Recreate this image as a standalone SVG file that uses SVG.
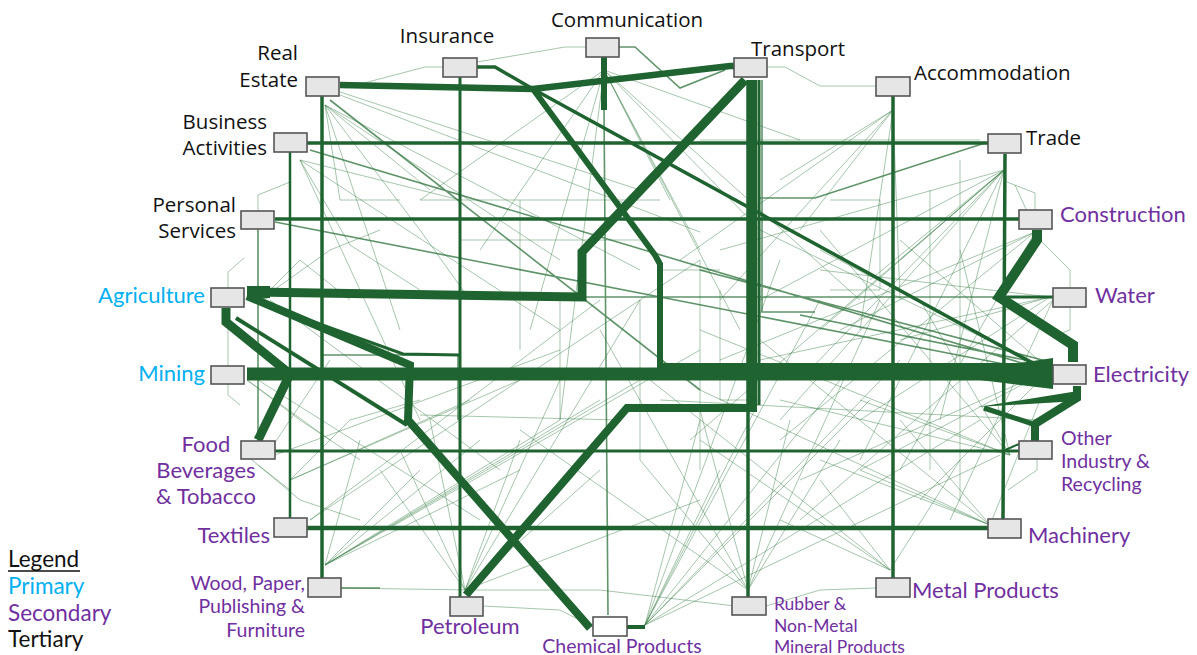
<svg xmlns="http://www.w3.org/2000/svg" width="1197" height="655" viewBox="0 0 1197 655">
<style>
.bg{fill:#ffffff}
.n rect{fill:#e6e6e6;stroke:#555555;stroke-width:1.6}
.k{fill:none;stroke:#1f6430;stroke-linejoin:miter;stroke-linecap:butt}
.kf{fill:#1f6430;stroke:none}
.m{fill:none;stroke:#2a7038;stroke-opacity:.75}
.t{fill:none;stroke:#3a8048;stroke-width:1;stroke-opacity:.45}
.blk{font-family:"Open Sans","Liberation Sans",sans-serif;font-size:20.5px;fill:#111111}
.pri{font-family:Lato,"Liberation Sans",sans-serif;font-size:22px;fill:#00b0f0}
.sec{font-family:Lato,"Liberation Sans",sans-serif;font-size:22px;fill:#7030a0}
.sm{font-family:Lato,"Liberation Sans",sans-serif;font-size:19.5px;fill:#7030a0}
.xs{font-family:Lato,"Liberation Sans",sans-serif;font-size:17.5px;fill:#7030a0}
.leg{font-family:Lato,"Liberation Sans",sans-serif;font-size:22.5px}
</style>
<rect class="bg" x="0" y="0" width="1197" height="655"/>
<g id="connectors">
  <!-- faint background web -->
  <path class="t" d="M290,182 L258,195 L258,211 M244,258 L228,272 L228,395 L240,405 M258,465 L290,490 M1007,182 L1035,193 L1035,210 M1040,240 L1070,270 L1070,288 M1070,307 L1070,330 L1056,335 M1037,459 L1037,470 L1008,490 M477,62 L565,47 L586,47 M443,67 L425,67 L345,88 M767,67 L785,67 L820,86 L876,86 M341,588 L470,590 L600,590 L735,606 M876,588 L820,590 L766,606 M483,606 L560,610 L593,627"/>
  <path class="t" d="M604,70 L480,250 M604,70 L530,330 M604,70 L700,250 M604,70 L760,230 M604,70 L860,300 M604,70 L740,330 M604,70 L670,200 M604,70 L800,140 M604,70 L420,200 M604,70 L560,420"/>
  <path class="t" d="M325,105 L420,230 L470,300 M325,105 L400,330 M325,105 L560,260 M325,105 L640,270 M325,105 L430,190 M340,92 L640,190 M340,95 L700,232 M325,105 L340,200 L400,200 M300,160 L350,245 L420,290 M300,160 L460,200 M300,160 L560,330 M300,160 L420,420"/>
  <path class="t" d="M1004,170 L780,420 M1004,170 L820,330 M1004,170 L870,280 M1004,170 L900,260 M1004,170 L760,300 M1004,170 L690,440 M1004,170 L860,460 M1004,170 L940,420 M1004,170 L720,250 M1004,170 L800,380 M1015,185 L1040,240"/>
  <path class="t" d="M893,110 L780,180 M893,110 L800,230 M893,110 L720,300 M893,110 L860,330 M893,110 L900,300 M893,110 L680,260"/>
  <path class="t" d="M645,625 L700,420 M645,625 L760,400 M645,625 L840,380 M645,625 L870,400 M645,625 L900,360 M645,625 L820,300 M645,625 L780,260 M645,625 L720,470 M645,625 L980,420 M645,625 L1000,455"/>
  <path class="t" d="M465,590 L400,450 M465,590 L430,420 M465,590 L520,440 M465,590 L560,380 M465,590 L600,470 M465,590 L700,500 M465,590 L380,470 M465,590 L640,300"/>
  <path class="t" d="M325,565 L420,470 M325,565 L480,440 M325,565 L560,420 M325,565 L600,400 M325,565 L640,380 M325,565 L700,350 M325,565 L520,470 M325,565 L360,440"/>
  <path class="t" d="M748,590 L640,460 M748,590 L700,410 M748,590 L520,430 M748,590 L840,440 M748,590 L880,300 M748,590 L790,420 M748,590 L600,330"/>
  <path class="t" d="M890,570 L820,480 M890,570 L780,520 M890,570 L700,440 M890,570 L960,460 M890,570 L650,380"/>
  <path class="t" d="M990,525 L860,470 M990,525 L820,460 M990,525 L700,390 M990,525 L900,420 M990,525 L760,340 M990,525 L1040,400"/>
  <path class="t" d="M1010,455 L780,400 M1010,455 L860,400 M1010,455 L700,330 M1010,455 L920,300 M1010,455 L820,230 M1010,455 L960,250"/>
  <path class="t" d="M1050,370 L820,250 M1050,370 L760,230 M1050,370 L900,240 M1050,370 L860,470 M1050,370 L800,480 M1050,370 L920,500 M1050,297 L820,270 M1050,297 L900,340 M1050,297 L760,360 M1050,297 L860,420"/>
  <path class="t" d="M260,300 L300,260 L350,300 M247,380 L300,420 L360,460 M247,380 L330,440 M260,300 L330,250 L380,230 M290,480 L350,420 L420,400 M290,480 L470,400 M290,480 L520,380 M270,450 L330,360 M240,450 L300,500 L360,520"/>
  <path class="t" d="M560,300 L560,420 M520,200 L520,350 M640,300 L640,460 M700,260 L700,470 M720,290 L720,400 L760,400 M930,190 L930,470 M960,160 L960,500 M420,200 L660,200 M460,240 L640,240 M660,270 L720,270 M660,400 L1040,420 M420,415 L620,420 M700,140 L980,140 M830,200 L880,200 L880,290 L830,290"/>
  <path class="t" d="M1035,232 L840,330 M1035,232 L780,440 M1035,232 L900,470 M1035,232 L720,360 M1053,300 L950,520 M1053,300 L800,520 M270,300 L500,470 M250,375 L480,520 M275,455 L560,350 M310,520 L600,300 M310,520 L700,260"/>
  <!-- medium lines -->
  <path class="m" stroke-width="1.6" d="M619,47 L635,47 L680,88 L725,70 M985,143 L815,198 L760,198 M700,270 L1050,362 M800,315 L1050,365 M762,80 L762,312 L815,312 M258,229 L258,441 M322,355 L458,355 L458,420 M585,297 L1050,297 M310,150 L1045,370 M275,222 L1045,372 M330,100 L700,390 M604,110 L608,615 M236,318 L407,425 M340,588 L380,588"/>
  <!-- thick connectors -->
  <path class="k" stroke-width="13" d="M247,374 L1053,374"/>
  <path class="kf" d="M980,369 L1053,358 L1053,389 L980,380 Z"/>
  <path class="k" stroke-width="9" d="M247,292 L582,297 L582,252 L745,80"/>
  <path class="kf" d="M247,286 L270,286 L270,298 L247,300 Z"/>
  <path class="k" stroke-width="8" d="M753,80 L753,408 L627,408 L466,595"/>
  <path class="k" stroke-width="3" d="M759,80 L759,405"/>
  <path class="k" stroke-width="6.5" d="M340,85 L533,89 L730,66 L735,66"/>
  <path class="k" stroke-width="6" d="M533,89 L655,255 L660,264 L660,366 L1050,366"/>
  <path class="k" stroke-width="3.5" d="M477,67 L495,67 L533,89 L1045,370"/>
  <path class="k" stroke-width="9" d="M226,308 L226,322 L290,374 L258,440"/>
  <path class="k" stroke-width="4" d="M236,318 L407,425"/>
  <path class="k" stroke-width="8" d="M247,296 L410,365 L408,420 L590,628"/>
  <path class="k" stroke-width="3" d="M250,299 L403,354 L460,355"/>
  <path class="k" stroke-width="10" d="M1037,230 L1037,240 L999,297 L1073,345 L1073,362"/>
  <path class="k" stroke-width="3" d="M999,297 L1053,297"/>
  <path class="kf" d="M978,407 L1078,391 L1078,401 Z"/>
  <path class="k" stroke-width="5" d="M984,408 L1033,424"/>
  <path class="k" stroke-width="8" d="M1077,386 L1077,398 L1035,424 L1035,441"/>
  <path class="k" stroke-width="3.5" d="M307,143 L988,143"/>
  <path class="k" stroke-width="3.5" d="M275,219 L1019,219"/>
  <path class="k" stroke-width="3" d="M275,451 L1019,451"/>
  <path class="k" stroke-width="4.5" d="M307,528 L988,528"/>
  <path class="k" stroke-width="3.5" d="M322,96 L322,578"/>
  <path class="k" stroke-width="2.5" d="M290,152 L290,518"/>
  <path class="k" stroke-width="3" d="M460,77 L460,597"/>
  <path class="k" stroke-width="6" d="M604,57 L604,110"/>
  <path class="k" stroke-width="3.5" d="M893,96 L893,578"/>
  <path class="k" stroke-width="3.5" d="M1005,154 L1003,519"/>
  <path class="k" stroke-width="3.5" d="M748,80 L748,597"/>
  <path class="k" stroke-width="4" d="M627,627 L645,627"/>
  <path class="k" stroke-width="2" d="M1003,451 L1019,444"/>
</g>
<g id="n-realestate" class="n"><rect x="306" y="77" width="33" height="19"/><text class="blk" x="298" y="60" text-anchor="end">Real</text><text class="blk" x="298" y="87" text-anchor="end">Estate</text></g>
<g id="n-business" class="n"><rect x="274" y="133" width="33" height="19"/><text class="blk" x="267" y="129" text-anchor="end">Business</text><text class="blk" x="267" y="155" text-anchor="end">Activities</text></g>
<g id="n-personal" class="n"><rect x="241" y="211" width="33" height="18"/><text class="blk" x="236" y="212" text-anchor="end">Personal</text><text class="blk" x="236" y="238" text-anchor="end">Services</text></g>
<g id="n-insurance" class="n"><rect x="443" y="58" width="34" height="19"/><text class="blk" x="447" y="43" text-anchor="middle">Insurance</text></g>
<g id="n-communication" class="n"><rect x="586" y="38" width="33" height="19"/><text class="blk" x="627" y="27" text-anchor="middle">Communication</text></g>
<g id="n-transport" class="n"><rect x="734" y="58" width="33" height="19"/><text class="blk" x="751" y="56">Transport</text></g>
<g id="n-accommodation" class="n"><rect x="876" y="77" width="34" height="19"/><text class="blk" x="914" y="80">Accommodation</text></g>
<g id="n-trade" class="n"><rect x="988" y="134" width="33" height="19"/><text class="blk" x="1026" y="145">Trade</text></g>
<g id="n-construction" class="n"><rect x="1019" y="210" width="33" height="19"/><text class="sec" x="1060" y="222">Construction</text></g>
<g id="n-water" class="n"><rect x="1053" y="288" width="33" height="19"/><text class="sec" x="1095" y="303">Water</text></g>
<g id="n-electricity" class="n"><rect x="1053" y="365" width="33" height="19"/><text class="sec" x="1093" y="382">Electricity</text></g>
<g id="n-other" class="n"><rect x="1019" y="441" width="33" height="18"/><text class="sm" x="1061" y="445">Other</text><text class="sm" x="1061" y="468">Industry &amp;</text><text class="sm" x="1061" y="491">Recycling</text></g>
<g id="n-machinery" class="n"><rect x="988" y="519" width="33" height="19"/><text class="sec" x="1028" y="543">Machinery</text></g>
<g id="n-metal" class="n"><rect x="876" y="578" width="34" height="19"/><text class="sec" x="912" y="598">Metal Products</text></g>
<g id="n-rubber" class="n"><rect x="732" y="597" width="34" height="18"/><text class="xs" x="774" y="610">Rubber &amp;</text><text class="xs" x="774" y="632">Non-Metal</text><text class="xs" x="774" y="653">Mineral Products</text></g>
<g id="n-chemical" class="n"><rect x="593" y="617" width="34" height="19" style="fill:#ffffff"/><text class="sm" x="622" y="653" text-anchor="middle">Chemical Products</text></g>
<g id="n-petroleum" class="n"><rect x="450" y="597" width="33" height="19"/><text class="sec" x="470" y="634" text-anchor="middle">Petroleum</text></g>
<g id="n-wood" class="n"><rect x="308" y="578" width="33" height="19"/><text class="sm" x="305" y="590" text-anchor="end">Wood, Paper,</text><text class="sm" x="305" y="613" text-anchor="end">Publishing &amp;</text><text class="sm" x="305" y="637" text-anchor="end">Furniture</text></g>
<g id="n-textiles" class="n"><rect x="274" y="518" width="33" height="19"/><text class="sec" x="270" y="543" text-anchor="end">Textiles</text></g>
<g id="n-food" class="n"><rect x="241" y="441" width="34" height="18"/><text class="sec" x="206" y="452" text-anchor="middle">Food</text><text class="sec" x="206" y="478" text-anchor="middle">Beverages</text><text class="sec" x="206" y="504" text-anchor="middle">&amp; Tobacco</text></g>
<g id="n-mining" class="n"><rect x="211" y="366" width="33" height="18"/><text class="pri" x="205" y="381" text-anchor="end">Mining</text></g>
<g id="n-agriculture" class="n"><rect x="211" y="288" width="33" height="19"/><text class="pri" x="205" y="303" text-anchor="end">Agriculture</text></g>
<g id="legend">
  <text class="leg" x="8" y="567" fill="#111111">Legend</text>
  <line x1="8" y1="571" x2="80" y2="571" stroke="#111111" stroke-width="1.5"/>
  <text class="leg" x="8" y="594" fill="#00b0f0">Primary</text>
  <text class="leg" x="8" y="621" fill="#7030a0">Secondary</text>
  <text class="leg" x="8" y="647" fill="#111111">Tertiary</text>
</g>
</svg>
